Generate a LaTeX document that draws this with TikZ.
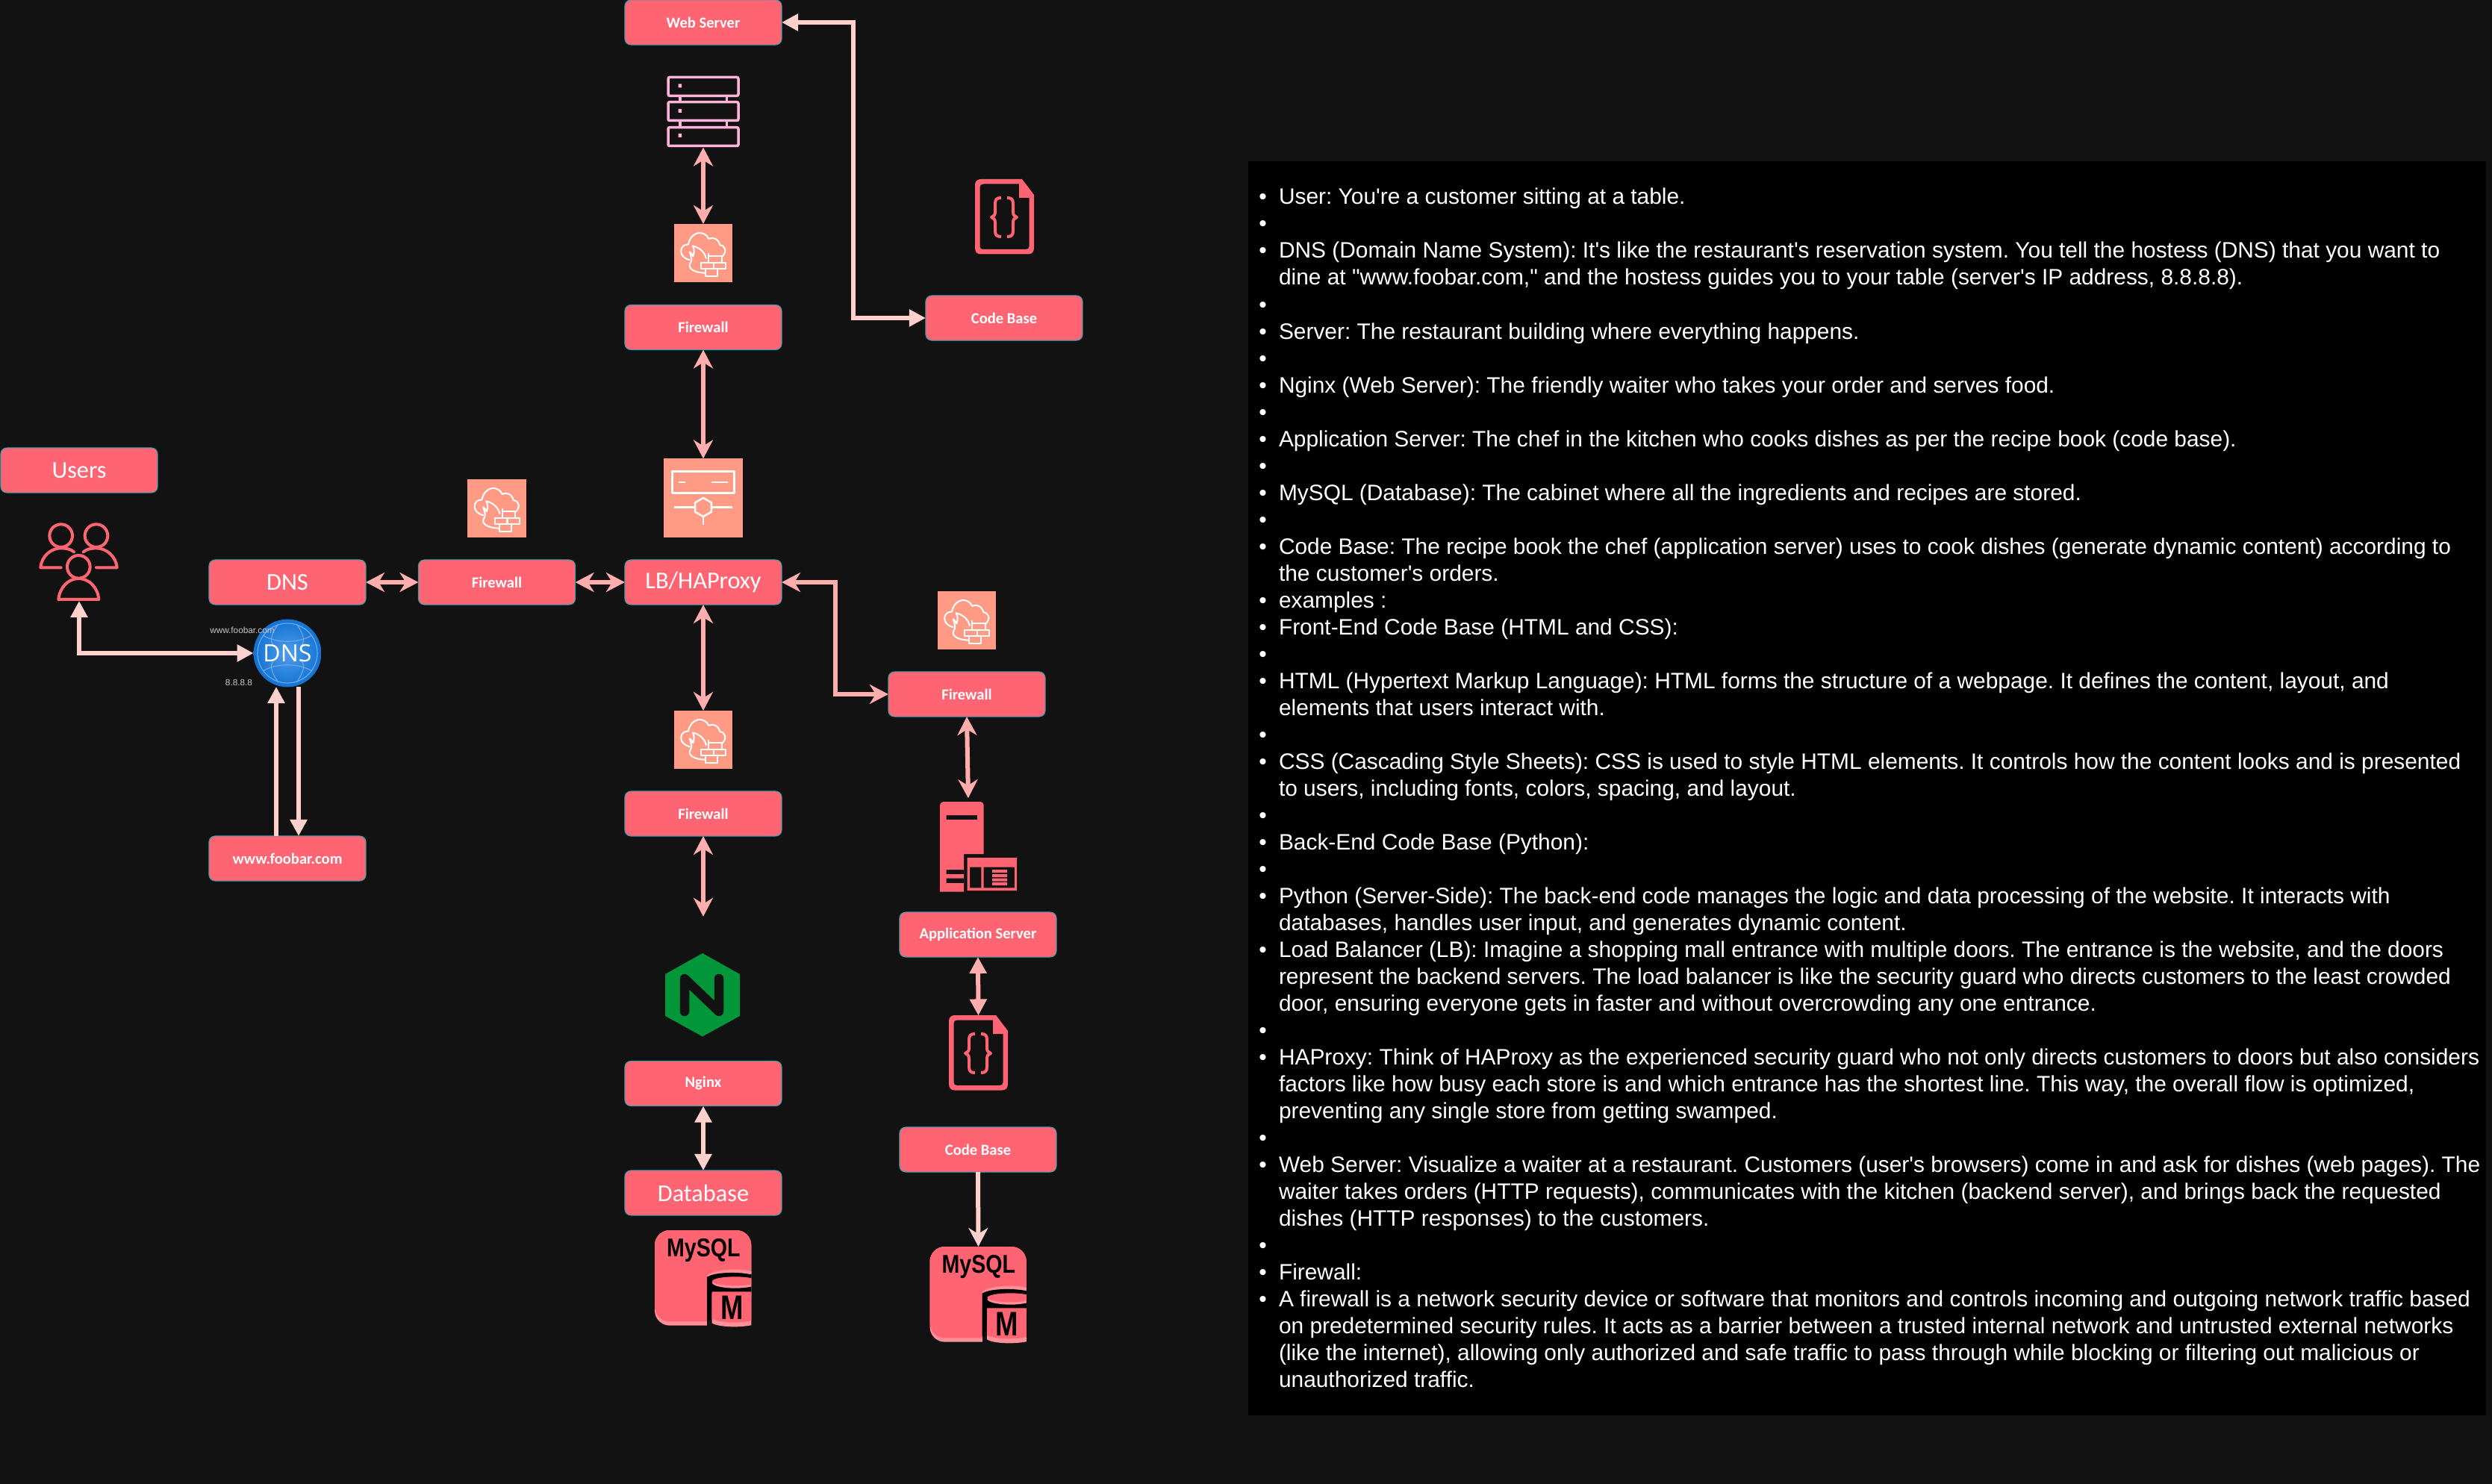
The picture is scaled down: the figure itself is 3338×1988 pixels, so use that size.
\documentclass[tikz,border=0pt]{standalone}
\usepackage{fontspec}
\usepackage{graphicx}
\setmainfont{Liberation Sans}
\newfontfamily\labfont{Carlito}
\newfontfamily\panelfont{Liberation Sans}
\newfontfamily\globefont{Open Sans}
\usetikzlibrary{arrows.meta,calc}
\frenchspacing
\definecolor{bgc}{HTML}{121212}
\definecolor{boxc}{HTML}{FF6473}
\definecolor{boxedge}{HTML}{2AA5B5}
\definecolor{arrA}{HTML}{FFADAD}
\definecolor{arrB}{HTML}{FFD0CC}
\definecolor{iconbg}{HTML}{FF9A85}
\definecolor{rimc}{HTML}{FF8F99}
\definecolor{stackc}{HTML}{FFB3DA}
\definecolor{ngxc}{HTML}{009639}
\definecolor{gridc}{HTML}{6FA6EC}
\definecolor{globein}{HTML}{4F9DEB}
\definecolor{globeout}{HTML}{1273D2}
\tikzset{
  ntip/.tip={Stealth[length=.25cm,width=.26cm,inset=.08cm]},
  btip/.tip={Stealth[length=.22cm,width=.22cm,inset=0pt]},
  box/.style={draw=boxedge,line width=.01cm,fill=boxc,rounded corners=.08cm,minimum width=2.1cm,minimum height=.6cm,inner sep=0pt,outer sep=0pt,text=white,align=center},
  biglab/.style={font=\labfont\fontsize{9.2pt}{10pt}\selectfont},
  smalllab/.style={font=\labfont\bfseries\fontsize{5.85pt}{7pt}\selectfont},
  anchorbox/.style={inner sep=0pt,outer sep=0pt},
  fwbg/.style={fill=iconbg,minimum size=.78cm,inner sep=0pt,outer sep=0pt},
  whiteline/.style={draw=white,line width=.02cm,line join=round},
  dbl/.style={draw=arrA,line width=.06cm,ntip-ntip},
  dblb/.style={draw=arrA,line width=.06cm,btip-btip},
  lgt/.style={draw=arrB,line width=.06cm},
  ptext/.style={text=white,font=\panelfont\fontsize{8.5pt}{10pt}\selectfont,inner sep=0pt,outer sep=0pt},
  redline/.style={draw=boxc,line width=.04cm,line join=round},
  tinytext/.style={text=white!78!black,font=\panelfont\fontsize{3.35pt}{4pt}\selectfont,inner sep=0pt,outer sep=0pt}
}
\newcommand{\fwicon}[3]{%
  \node[fwbg] (#1) at (#2,#3) {};
  \begin{scope}[shift={($(#2,#3)-(46,44)$)},scale=.3333]
    \draw[whiteline] (160,145) -- (160,133);
    \draw[whiteline] (215,145) .. controls (235,125) and (225,100) .. (205,100)
      .. controls (200,75) and (175,65) .. (160,75)
      .. controls (145,40) and (90,40) .. (78,97)
      .. controls (40,97) and (35,150) .. (85,160);
    \draw[whiteline] (150,155) .. controls (145,130) and (125,110) .. (95,103)
      .. controls (105,120) and (100,135) .. (97,145)
      .. controls (92,135) and (88,130) .. (83,127)
      .. controls (90,150) and (95,160) .. (85,175)
      .. controls (75,195) and (105,212) .. (147,212);
    \draw[whiteline] (160,145) rectangle (212,170);
    \draw[whiteline] (130,170) rectangle (180,196);
    \draw[whiteline] (180,170) rectangle (229,196);
    \draw[whiteline] (148,196) rectangle (196,225);
  \end{scope}
}
\newcommand{\docicon}[3]{%
  \begin{scope}[shift={(#2,#3)}]
    \fill[boxc,even odd rule] (0,8) .. controls (0,3) and (3,0) .. (8,0) -- (63,0) -- (79,21) -- (79,92) .. controls (79,98) and (76,100.5) .. (71,100.5) -- (8,100.5) .. controls (3,100.5) and (0,98) .. (0,92) -- cycle
      (6.5,11) .. controls (6.5,8) and (8,6.5) .. (11,6.5) -- (59,6.5) -- (59,25) -- (72.5,25) -- (72.5,90) .. controls (72.5,93) and (71,94) .. (68,94) -- (11,94) .. controls (8,94) and (6.5,93) .. (6.5,90) -- cycle;
    \draw[redline,line width=.04cm] (35,25) .. controls (29,25) and (27,27) .. (27,33) -- (27,44) .. controls (27,48) and (25,50) .. (22,51) .. controls (25,52) and (27,54) .. (27,58) -- (27,69) .. controls (27,75) and (29,77) .. (35,77);
    \draw[redline,line width=.04cm] (43,25) .. controls (49,25) and (51,27) .. (51,33) -- (51,44) .. controls (51,48) and (53,50) .. (56,51) .. controls (53,52) and (51,54) .. (51,58) -- (51,69) .. controls (51,75) and (49,77) .. (43,77);
  \end{scope}
}
\newcommand{\mysqlicon}[3]{%
  \node[anchorbox,minimum width=1.3cm,minimum height=1.29cm] (#1) at ($(#2,#3)+(65,64.5)$) {};
  \begin{scope}[shift={($(#2,#3)-(7.33,8.33)$)},scale=.3333]
    \fill[rimc] (245,408) [rounded corners=.2cm] -- (22,408) -- (22,25) -- (410,25) [sharp corners] -- (410,200) -- (245,200) -- cycle;
    \fill[boxc] (245,392) [rounded corners=.2cm] -- (22,392) -- (22,25) -- (410,25) [sharp corners] -- (410,200) -- (245,200) -- cycle;
    \fill[rimc] (232,208) .. controls (250,185) and (350,175) .. (410,190) -- (410,260) -- (232,260) -- cycle;
    \fill[bgc] (232,212) rectangle (410,410);
    \begin{scope}
      \clip (230,170) rectangle (410,430);
      \fill[rimc] (252,255) -- (252,398) .. controls (280,418) and (400,418) .. (437,398) -- (437,255) -- cycle;
      \fill[boxc] (252,255) -- (252,380) .. controls (280,400) and (400,400) .. (437,380) -- (437,255) -- cycle;
      \fill[black] (232,215) .. controls (250,195) and (350,190) .. (410,203) -- (410,272) -- (252,272) -- (245,385) -- (232,385) -- cycle;
      \fill[rimc] (345,236) ellipse [x radius=92,y radius=22];
      \fill[boxc] (345,230) ellipse [x radius=92,y radius=18];
      \fill[boxc] (252,276) .. controls (290,290) and (380,290) .. (437,270) -- (437,300) -- (252,300) -- cycle;
    \end{scope}
    \node[anchorbox,text=black,font=\panelfont\bfseries\fontsize{9.8pt}{10pt}\selectfont] (#1t) at (218,105) {\scalebox{.83}[1]{MySQL}};
    \node[anchorbox,text=black,font=\panelfont\bfseries\fontsize{13pt}{14pt}\selectfont] (#1m) at (332,335) {\scalebox{.8}[1]{M}};
  \end{scope}
}
\newcommand{\panelline}[2]{\node[ptext,anchor=base west] (p#1) at (1713,{274+36*#1}) {#2};}
\newcommand{\panelbullet}[1]{\node[ptext,anchor=base] (b#1) at (1691.5,{274+36*#1}) {•};}
\newcommand{\bl}[2]{\panelbullet{#1}\panelline{#1}{#2}}
\begin{document}
\begin{tikzpicture}[x=.01cm,y=-.01cm]
\fill[bgc] (0,0) rectangle (3338,1988);
\useasboundingbox (0,0) rectangle (3338,1988);
% text panel
\fill[black] (1672,216) rectangle (3330,1896);
\bl{0}{User: You're a customer sitting at a table.}
\panelbullet{1}
\bl{2}{DNS (Domain Name System): It's like the restaurant's reservation system. You tell the hostess (DNS) that you want to}
\panelline{3}{dine at "www.foobar.com," and the hostess guides you to your table (server's IP address, 8.8.8.8).}
\panelbullet{4}
\bl{5}{Server: The restaurant building where everything happens.}
\panelbullet{6}
\bl{7}{Nginx (Web Server): The friendly waiter who takes your order and serves food.}
\panelbullet{8}
\bl{9}{Application Server: The chef in the kitchen who cooks dishes as per the recipe book (code base).}
\panelbullet{10}
\bl{11}{MySQL (Database): The cabinet where all the ingredients and recipes are stored.}
\panelbullet{12}
\bl{13}{Code Base: The recipe book the chef (application server) uses to cook dishes (generate dynamic content) according to}
\panelline{14}{the customer's orders.}
\bl{15}{examples :}
\bl{16}{Front-End Code Base (HTML and CSS):}
\panelbullet{17}
\bl{18}{HTML (Hypertext Markup Language): HTML forms the structure of a webpage. It defines the content, layout, and}
\panelline{19}{elements that users interact with.}
\panelbullet{20}
\bl{21}{CSS (Cascading Style Sheets): CSS is used to style HTML elements. It controls how the content looks and is presented}
\panelline{22}{to users, including fonts, colors, spacing, and layout.}
\panelbullet{23}
\bl{24}{Back-End Code Base (Python):}
\panelbullet{25}
\bl{26}{Python (Server-Side): The back-end code manages the logic and data processing of the website. It interacts with}
\panelline{27}{databases, handles user input, and generates dynamic content.}
\bl{28}{Load Balancer (LB): Imagine a shopping mall entrance with multiple doors. The entrance is the website, and the doors}
\panelline{29}{represent the backend servers. The load balancer is like the security guard who directs customers to the least crowded}
\panelline{30}{door, ensuring everyone gets in faster and without overcrowding any one entrance.}
\panelbullet{31}
\bl{32}{HAProxy: Think of HAProxy as the experienced security guard who not only directs customers to doors but also considers}
\panelline{33}{factors like how busy each store is and which entrance has the shortest line. This way, the overall flow is optimized,}
\panelline{34}{preventing any single store from getting swamped.}
\panelbullet{35}
\bl{36}{Web Server: Visualize a waiter at a restaurant. Customers (user's browsers) come in and ask for dishes (web pages). The}
\panelline{37}{waiter takes orders (HTTP requests), communicates with the kitchen (backend server), and brings back the requested}
\panelline{38}{dishes (HTTP responses) to the customers.}
\panelbullet{39}
\bl{40}{Firewall:}
\bl{41}{A firewall is a network security device or software that monitors and controls incoming and outgoing network traffic based}
\panelline{42}{on predetermined security rules. It acts as a barrier between a trusted internal network and untrusted external networks}
\panelline{43}{(like the internet), allowing only authorized and safe traffic to pass through while blocking or filtering out malicious or}
\panelline{44}{unauthorized traffic.}
% boxes
\node[box,biglab] (users) at (106,630) {Users};
\node[box,biglab] (dnsb) at (385,780) {DNS};
\node[box,smalllab] (fwl) at (665.5,780) {Firewall};
\node[box,biglab] (lb) at (942,780) {LB/HAProxy};
\node[box,smalllab] (web) at (942,30) {Web Server};
\node[box,smalllab] (fwt) at (942,438.5) {Firewall};
\node[box,smalllab] (cb) at (1345,426) {Code Base};
\node[box,smalllab] (fwm) at (942,1090) {Firewall};
\node[box,smalllab] (fwr) at (1295,930) {Firewall};
\node[box,smalllab] (app) at (1310,1252) {Application Server};
\node[box,smalllab] (ngx) at (942,1451.5) {Nginx};
\node[box,biglab] (db) at (942,1598) {Database};
\node[box,smalllab] (cbb) at (1310,1540) {Code Base};
\node[box,smalllab] (www) at (385,1150) {www.foobar.com};
% firewall icons
\fwicon{fwia}{665.5}{681}
\fwicon{fwib}{942}{339}
\fwicon{fwic}{942}{991}
\fwicon{fwid}{1295}{831}
% users icon
\node[anchorbox,minimum size=1.04cm] (usr) at (106,753) {};
\begin{scope}[shift={(45,695)},scale=.3333]
  \begin{scope}[draw=boxc,line width=.04cm,line join=round,line cap=round]
    \draw (110,68) circle [radius=46];
    \draw (252,68) circle [radius=46];
    \draw (181,193) circle [radius=46];
    \draw (110,196) -- (28,196) .. controls (32,150) and (70,118) .. (110,118) .. controls (130,118) and (150,122) .. (162,133);
    \draw (252,196) -- (335,196) .. controls (331,150) and (292,118) .. (252,118) .. controls (232,118) and (212,122) .. (200,133);
    \draw (100,324) -- (262,324) .. controls (258,275) and (222,240) .. (181,240) .. controls (140,240) and (105,275) .. (100,324) -- cycle;
  \end{scope}
\end{scope}
% globe
\shade[inner color=globein,outer color=globeout] (385,875) circle [radius=45.4];
\node[anchorbox,circle,minimum size=.908cm] (globe) at (385,875) {};
\begin{scope}[draw=gridc,line width=.012cm]
  \draw (385,875) circle [radius=40];
  \draw (352,851) .. controls (370,862) and (400,862) .. (418,851);
  \draw (352,899) .. controls (370,888) and (400,888) .. (418,899);
  \draw (373,836) .. controls (362,850) and (362,860) .. (366,864);
  \draw (397,836) .. controls (408,850) and (408,860) .. (404,864);
  \draw (373,914) .. controls (362,900) and (362,890) .. (366,886);
  \draw (397,914) .. controls (408,900) and (408,890) .. (404,886);
\end{scope}
\node[anchorbox,text=white,font=\globefont\fontsize{9.1pt}{10pt}\selectfont] (globet) at (385,875) {DNS};
\node[tinytext] (urlt) at (324.5,844.5) {www.foobar.com};
\node[tinytext] (ipt) at (320,914) {8.8.8.8};
% server stack
\node[anchorbox,minimum width=.97cm,minimum height=.96cm] (stack) at (942,149.5) {};
\begin{scope}[draw=stackc,line width=.035cm,rounded corners=.02cm]
  \draw (895,103.5) rectangle (989,128.3);
  \draw (895,136.7) rectangle (989,161.5);
  \draw (895,170.7) rectangle (989,195.5);
  \draw[sharp corners] (910.8,130) -- (910.8,135) (973.3,130) -- (973.3,135) (910.8,163) -- (910.8,169) (973.3,163) -- (973.3,169);
\end{scope}
\fill[stackc] (908.5,112.5) rectangle (913,117.5) (908.5,146) rectangle (913,151) (908.5,179) rectangle (913,184);
% load balancer icon
\node[fill=iconbg,minimum size=1.057cm,inner sep=0pt,outer sep=0pt] (lbi) at (942,667.3) {};
\begin{scope}[draw=white,line width=.025cm,line join=round]
  \draw (900.5,631.7) rectangle (983.6,660.7);
  \draw (909,646) -- (917.5,646) (952.8,646) -- (975,646);
  \draw (902.8,679.5) -- (931,679.5) (953,679.5) -- (981,679.5) (942,691) -- (942,703);
  \draw (942,667) -- (952.8,673.2) -- (952.8,685.8) -- (942,692) -- (931.2,685.8) -- (931.2,673.2) -- cycle;
\end{scope}
% code documents
\docicon{doca}{1306}{240}
\node[anchorbox,minimum width=.79cm,minimum height=1cm] (docb) at (1310.5,1410.5) {};
\docicon{docc}{1271}{1360}
% application server icon
\node[anchorbox] (appin) at (1297,1071) {};
\fill[boxc,even odd rule] (1259,1080) .. controls (1259,1076) and (1261,1074) .. (1265,1074) -- (1312,1074) .. controls (1316,1074) and (1317.7,1076) .. (1317.7,1080) -- (1317.7,1144) -- (1291,1144) -- (1291,1194.7) -- (1259,1194.7) -- cycle
  (1267.7,1092) rectangle (1309,1098)
  (1267.7,1165) rectangle (1291,1171)
  (1267.7,1176.7) rectangle (1291,1183);
\fill[boxc,even odd rule] (1295.7,1149) rectangle (1362,1193)
  (1299,1161.7) rectangle (1314.3,1189.3)
  (1317.7,1161.7) rectangle (1359,1189.3);
\fill[boxc] (1329,1165) rectangle (1349,1169) (1329,1171) rectangle (1349,1175) (1329,1176.5) rectangle (1349,1180.5) (1329,1182) rectangle (1349,1186);
% nginx
\node[anchorbox] (ngxin) at (942,1229.6) {};
\fill[ngxc] (941,1277) -- (991,1305) -- (991,1361) -- (941,1388.5) -- (891,1361) -- (891,1305) -- cycle;
\draw[bgc,line width=.125cm,line cap=round,line join=round] (917,1355) -- (917,1311) -- (963,1355) -- (963,1311);
% mysql
\mysqlicon{sqla}{877}{1648}
\mysqlicon{sqlb}{1245.5}{1670}
% connectors
\coordinate (wbend) at (1143.4,0);
\coordinate (rbend) at (1119,0);
\coordinate (gup) at (370,920);
\coordinate (gdn) at (400,920);
\draw[lgt,btip-btip] (web.east) -- (web.east -| wbend) -- (cb.west -| wbend) -- (cb.west);
\draw[dbl] (stack.south) -- (fwib.north);
\draw[dbl] (fwt.south) -- (lbi.north);
\draw[dbl] (dnsb.east) -- (fwl.west);
\draw[dbl] (fwl.east) -- (lb.west);
\draw[dbl] (lb.south) -- (fwic.north);
\draw[dbl] (fwm.south) -- (ngxin);
\draw[dbl] (lb.east) -- (lb.east -| rbend) -- (fwr.west -| rbend) -- (fwr.west);
\draw[dbl] (fwr.south) -- (appin);
\draw[dblb] (app.south) -- (docb.north);
\draw[lgt,btip-btip] (ngx.south) -- (db.north);
\draw[lgt,-ntip] (cbb.south) -- (sqlb.north);
\draw[lgt,btip-btip] (usr.south) -- (usr.south |- globe.west) -- (globe.west);
\draw[lgt,-btip] (www.north -| gup) -- (gup);
\draw[lgt,-btip] (gdn) -- (www.north -| gdn);
\end{tikzpicture}
\end{document}
